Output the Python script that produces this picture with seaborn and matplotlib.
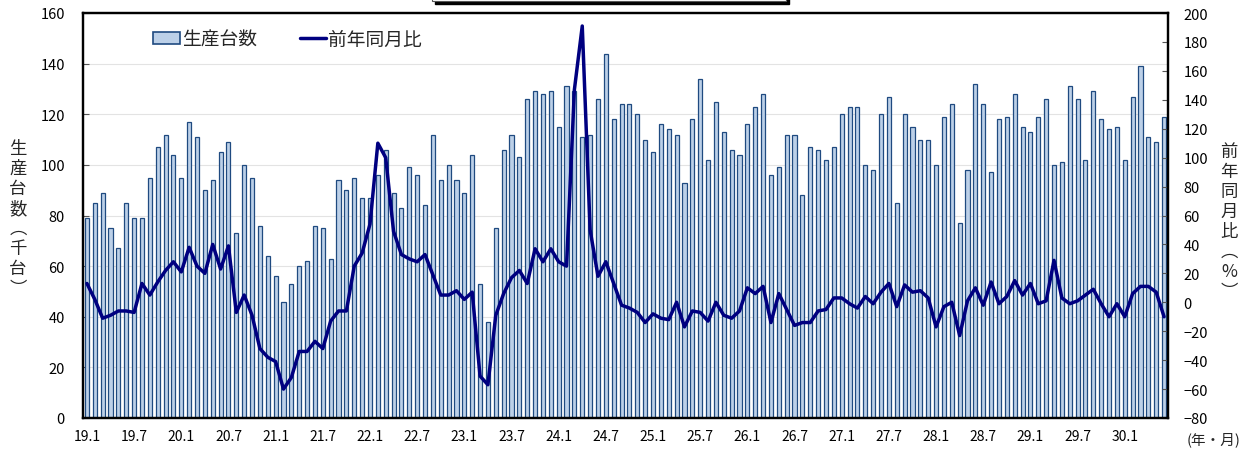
import numpy as np
import pandas as pd
import matplotlib
matplotlib.use("Agg")
import matplotlib.pyplot as plt
import seaborn as sns
from matplotlib.patches import Patch, Rectangle
from matplotlib.lines import Line2D

# ---------------- data ----------------
years = list(range(19, 31))
production = [
    79, 85, 89, 75, 67, 85, 79, 79, 95, 107, 112, 104,      # 19
    95, 117, 111, 90, 94, 105, 109, 73, 100, 95, 76, 64,    # 20
    56, 46, 53, 60, 62, 76, 75, 63, 94, 90, 95, 87,         # 21
    87, 96, 106, 89, 83, 99, 96, 84, 112, 94, 100, 94,      # 22
    89, 104, 53, 38, 75, 106, 112, 103, 126, 129, 128, 129, # 23
    115, 131, 129, 111, 112, 126, 144, 118, 124, 124, 120, 110,  # 24
    105, 116, 114, 112, 93, 118, 134, 102, 125, 113, 106, 104,   # 25
    116, 123, 128, 96, 99, 112, 112, 88, 107, 106, 102, 107,     # 26
    120, 123, 123, 100, 98, 120, 127, 85, 120, 115, 110, 110,    # 27
    100, 119, 124, 77, 98, 132, 124, 97, 118, 119, 128, 115,     # 28
    113, 119, 126, 100, 101, 131, 126, 102, 129, 118, 114, 115,  # 29
    102, 127, 139, 111, 109, 119,                                # 30
]
yoy = [
    13, 2, -11, -9, -6, -6, -7, 13, 5, 14, 22, 28,
    21, 38, 25, 20, 40, 23, 39, -7, 5, -9, -32, -38,
    -41, -60, -52, -34, -34, -27, -32, -13, -6, -6, 25, 34,
    54, 110, 100, 49, 33, 30, 28, 33, 19, 5, 5, 8,
    2, 7, -51, -57, -9, 6, 17, 22, 13, 37, 28, 37,
    28, 25, 147, 191, 50, 18, 28, 13, -2, -4, -7, -14,
    -8, -11, -12, 0, -17, -6, -7, -13, 0, -9, -11, -6,
    10, 6, 11, -14, 6, -5, -16, -14, -14, -6, -5, 3,
    3, -1, -4, 4, -1, 7, 13, -3, 12, 7, 8, 3,
    -17, -3, 0, -23, 1, 10, -2, 14, -1, 4, 15, 5,
    13, -1, 1, 29, 3, -1, 1, 5, 9, -1, -10, -1,
    -10, 6, 11, 11, 7, -10,
]
n = len(production)
months = [f"{y}.{m}" for y in years for m in range(1, 13)][:n]
left_ticks = list(range(0, 161, 20))
right_ticks = list(range(-80, 201, 20))

bar_face = "#BCD0E8"
bar_edge = "#1F4A80"
line_color = "#000080"

# ---------------- style ----------------
sns.set_theme(style="white")
plt.rcParams["font.family"] = ["Noto Sans CJK JP", "DejaVu Sans"]
plt.rcParams["axes.unicode_minus"] = True

W, H = 1249, 452
fig = plt.figure(figsize=(W / 100, H / 100), dpi=100)
fig.patch.set_facecolor("white")
ax = fig.add_axes([83 / W, 1 - 419 / H, 1085 / W, 405 / H])

df = pd.DataFrame({"month": months, "production": production,
                   "yoy": yoy, "idx": np.arange(n)})

sns.barplot(data=df, x="month", y="production", order=months, ax=ax,
            color=bar_face, saturation=1, width=0.52, errorbar=None,
            edgecolor=bar_edge, linewidth=0.9, zorder=2)

ax2 = ax.twinx()
sns.lineplot(data=df, x="idx", y="yoy", ax=ax2, color=line_color,
             linewidth=2.5, zorder=3)

ax.set_xlim(-0.5, n - 0.5)
ax.set_ylim(0, 160)
ax2.set_ylim(-80, 200)
ax2.set_xlim(-0.5, n - 0.5)

ax.set_yticks(left_ticks)
ax2.set_yticks(right_ticks)
ax2.set_yticklabels([str(v).replace("-", "\u2212") for v in right_ticks])

major_pos = [i for i, m in enumerate(months) if m.split(".")[1] in ("1", "7")]
ax.set_xticks(major_pos)
ax.set_xticklabels([months[i] for i in major_pos])
ax.set_xticks(range(n), minor=True)

ax.tick_params(axis="x", which="both", direction="in", length=3, width=0.8,
               colors="#888888", labelcolor="black", labelsize=10, pad=8,
               bottom=True)
ax.tick_params(axis="y", direction="in", length=4, width=0.8, labelsize=10.5,
               pad=13, left=True, colors="#555555", labelcolor="black")
ax2.tick_params(axis="y", direction="in", length=4, width=0.8, labelsize=10.5,
                pad=11, right=True, colors="#555555", labelcolor="black")

ax.set_xlabel("")
ax.set_ylabel("")
ax2.set_xlabel("")
ax2.set_ylabel("")

ax.grid(axis="y", color="#E3E3E3", linewidth=0.8)
ax.set_axisbelow(True)
for a in (ax, ax2):
    for s in a.spines.values():
        s.set_color("black")
        s.set_linewidth(1.6)

# legend
handles = [Patch(facecolor=bar_face, edgecolor=bar_edge, linewidth=1.2),
           Line2D([0], [0], color=line_color, linewidth=2.5)]
leg = ax.legend(handles, ["生産台数", "前年同月比"], loc="center left",
                bbox_to_anchor=(0.058, 0.936), ncol=2, frameon=False,
                fontsize=13.5, handlelength=1.4, handleheight=0.6,
                handletextpad=0.1, columnspacing=2.3, borderaxespad=0)

# vertical axis titles
fig.text(18 / W, 1 - 219 / H, "生\n産\n台\n数\n︵\n千\n台\n︶", ha="center",
         va="center", fontsize=12.5, linespacing=1.15)
fig.text(1229 / W, 1 - 222 / H, "前\n年\n同\n月\n比\n︵\n%\n︶", ha="center",
         va="center", fontsize=12.5, linespacing=1.15)
fig.text(1214 / W, 1 - 440 / H, "(年・月)", ha="center", va="center",
         fontsize=10.5)

# cut-off title box at the top
fig.patches.append(Rectangle((435 / W, 1 - 4.5 / H), 354 / W, 20 / H,
                             transform=fig.transFigure, facecolor="black",
                             edgecolor="black", zorder=5))
fig.patches.append(Rectangle((432 / W, 1 - 2 / H), 354 / W, 20 / H,
                             transform=fig.transFigure, facecolor="white",
                             edgecolor="#555555", linewidth=0.8, zorder=6))

fig.savefig("out.png", dpi=100, facecolor="white")
